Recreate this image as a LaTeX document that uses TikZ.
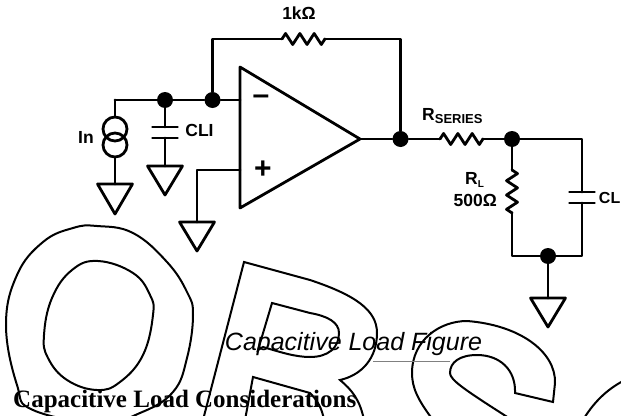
\documentclass[tikz,border=0pt]{standalone}
\usepackage{fontspec}
\setmainfont{Liberation Serif}
\newfontfamily\labelfont{Liberation Sans}
\usetikzlibrary{decorations.pathmorphing}
\usetikzlibrary{calc}
\tikzset{
    wire/.style={line width=2.8pt, line join=round, line cap=round},
    dot/.style={circle, fill=black, inner sep=0pt, minimum size=16pt},
    res/.style={wire, decorate, decoration={zigzag, amplitude=5.5pt, segment length=14.3pt}},
    letter/.style={line width=2pt, line join=miter},
    lab/.style={font=\labelfont\bfseries\fontsize{17.5}{17.5}\selectfont, inner sep=0pt},
    sign/.style={font=\labelfont\bfseries\fontsize{30}{30}\selectfont, inner sep=0pt},
}
\newcommand{\grnd}[2]{% apex-down ground triangle
    \draw[wire] ($(#1)+(-17.5,0)$) -- ($(#1)+(17.5,0)$) -- ($(#1)+(0,#2)$) -- cycle;
}
\begin{document}
\begin{tikzpicture}[x=1pt, y=-1pt]
    \clip (0,0) rectangle (621,415);
    % outline letters
    \draw[letter] plot[smooth cycle, tension=0.7] coordinates {(97,226) (133,233) (167,262) (187,292) (193,315) (187,358) (173,392) (140,413) (100,423) (33,410) (17,385) (6,325) (17,275) (43,242) (73,228)};
    \draw[letter] plot[smooth cycle, tension=0.7] coordinates {(98,261) (133,273) (150,295) (153,315) (143,355) (120,382) (97,390) (67,380) (48,358) (44,335) (52,298) (72,270)};
    \draw[letter] (203,420) -- (244,262) -- (310,280) .. controls (355,295) and (377,310) .. (377,333) .. controls (377,358) and (362,375) .. (340,380) .. controls (352,390) and (360,400) .. (364,420);
    \draw[letter] (272,303) -- (258,350) -- (263,347) .. controls (280,352) and (295,357) .. (310,357) .. controls (328,357) and (339,348) .. (339,333) .. controls (339,322) and (327,316) .. (310,313) -- cycle;
    \draw[letter] (245,420) -- (253,377) -- (310,393) .. controls (317,400) and (322,408) .. (324,420);
    \draw[letter] (433,420) .. controls (418,400) and (412,388) .. (412,373) .. controls (412,340) and (440,321) .. (467,321) .. controls (520,325) and (556,352) .. (555,383) -- (553,402) -- (515,393) .. controls (516,370) and (500,355) .. (477,355) .. controls (460,355) and (450,362) .. (450,373) .. controls (450,380) and (465,390) .. (512,420);
    \draw[letter] (583,420) .. controls (592,405) and (605,390) .. (625,380);
    % rule under caption
    \coordinate (rule1) at (373,361);
    \coordinate (rule2) at (450,361);
    \draw[gray, line width=0.5pt] (rule1) -- (rule2);
    % input side
    \coordinate (in1) at (115,100);
    \node (j1) [dot] at (165,100) {};
    \node (j2) [dot] at (212.5,100) {};
    \coordinate (opm) at (240,100);
    \coordinate (opp) at (240,170);
    \coordinate (optop) at (240,67);
    \coordinate (opbot) at (240,208);
    \coordinate (optip) at (360,139);
    \draw[wire] (optop) -- (optip) -- (opbot) -- cycle;
    \draw[wire] (in1) -- (j1) -- (j2) -- (opm);
    % current source
    \node (is1) [circle, draw, line width=2.8pt, inner sep=0pt, minimum size=24pt] at (115,129) {};
    \node (is2) [circle, draw, line width=2.8pt, inner sep=0pt, minimum size=24pt] at (115,145) {};
    \coordinate (g1) at (115,184);
    \draw[wire] (in1) -- (is1.north);
    \draw[wire] (is2.south) -- (g1);
    \grnd{g1}{30}
    % input capacitor
    \coordinate (c1a) at (165,127);
    \coordinate (c1b) at (165,138);
    \coordinate (g2) at (165,166);
    \draw[wire] (j1) -- (c1a);
    \draw[wire] (c1b) -- (g2);
    \draw[wire] ($(c1a)+(-12.5,0)$) -- ($(c1a)+(12.5,0)$);
    \draw[wire] ($(c1b)+(-12.5,0)$) -- ($(c1b)+(12.5,0)$);
    \grnd{g2}{29}
    % plus input
    \coordinate (p1) at (197,170);
    \coordinate (g3) at (197,222);
    \draw[wire] (opp) -- (p1) -- (g3);
    \grnd{g3}{29}
    % feedback
    \coordinate (fb1) at (212.5,39);
    \coordinate (fb2) at (282,39);
    \coordinate (fb3) at (325,39);
    \coordinate (fb4) at (400.5,39);
    \node (jo) [dot] at (400.5,139) {};
    \draw[wire] (j2) -- (fb1) -- (fb2);
    \draw[res] (fb2) -- (fb3);
    \draw[wire] (fb3) -- (fb4) -- (jo);
    % output and load
    \coordinate (rs1) at (440,139);
    \coordinate (rs2) at (483,139);
    \node (j3) [dot] at (512,139) {};
    \coordinate (cr) at (582,139);
    \coordinate (c2a) at (582,192);
    \coordinate (c2b) at (582,203);
    \coordinate (br) at (582,256);
    \coordinate (bl) at (512,256);
    \coordinate (rl1) at (512,170);
    \coordinate (rl2) at (512,213);
    \node (j4) [dot] at (548,256) {};
    \coordinate (g4) at (548,298);
    \draw[wire] (optip) -- (jo) -- (rs1);
    \draw[res] (rs1) -- (rs2);
    \draw[wire] (rs2) -- (j3) -- (cr) -- (c2a);
    \draw[wire] (j3) -- (rl1);
    \draw[res] (rl1) -- (rl2);
    \draw[wire] (rl2) -- (bl) -- (br) -- (c2b);
    \draw[wire] ($(c2a)+(-12.5,0)$) -- ($(c2a)+(12.5,0)$);
    \draw[wire] ($(c2b)+(-12.5,0)$) -- ($(c2b)+(12.5,0)$);
    \draw[wire] (j4) -- (g4);
    \grnd{g4}{29}
    % labels
    \node (tfb) [lab] at (299,13) {1kΩ};
    \node (tin) [lab] at (86,137) {In};
    \node (tcli) [lab] at (199.5,130) {CLI};
    \node (tminus) [sign] at (261,100) {–};
    \node (tplus) [sign] at (263,170) {+};
    \node (trs) [lab, anchor=west] at (422,116) {R\raisebox{-3pt}{\fontsize{13}{13}\selectfont SERIES}};
    \node (trl) [lab, anchor=west] at (465,180) {R\raisebox{-3pt}{\fontsize{10}{10}\selectfont L}};
    \node (trv) [lab, anchor=east] at (497,200) {500Ω};
    \node (tcl) [lab, anchor=east, font=\labelfont\bfseries\fontsize{16}{16}\selectfont] at (620.5,198) {CL};
    \node (tcap) [font=\labelfont\itshape\fontsize{25}{25}\selectfont, inner sep=0pt] at (353.5,344) {Capacitive Load Figure};
    \node (thead) [font=\bfseries\fontsize{25}{25}\selectfont, inner sep=0pt, anchor=base west] at (13,407) {Capacitive Load Considerations};
\end{tikzpicture}
\end{document}
